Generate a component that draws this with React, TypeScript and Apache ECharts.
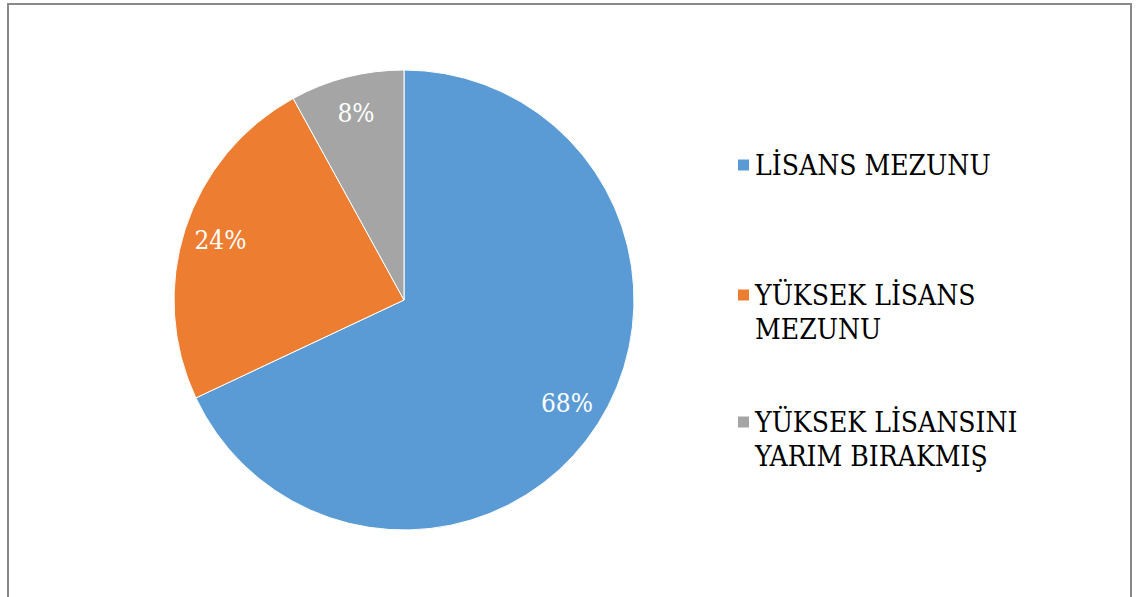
import React, { useEffect, useRef } from "react";
import * as echarts from "echarts";

const categories = ["LİSANS MEZUNU", "YÜKSEK LİSANS MEZUNU", "YÜKSEK LİSANSINI YARIM BIRAKMIŞ"];
const legendLines = [["LİSANS MEZUNU"], ["YÜKSEK LİSANS", "MEZUNU"], ["YÜKSEK LİSANSINI", "YARIM BIRAKMIŞ"]];
const values = [68, 24, 8];
const colors = ["#5B9BD5", "#ED7D31", "#A5A5A5"];

const FONT = "DejaVu Serif Condensed";

export default function App() {
  const ref = useRef<HTMLDivElement>(null);
  useEffect(() => {
    if (!ref.current) return;
    const chart = echarts.init(ref.current, null, { renderer: "svg" });
    const data = categories.map((name, i) => ({ name, value: values[i], itemStyle: { color: colors[i] } }));
    const lh = 34;
    const legendTops = [165 - lh / 2, 295 - lh * 1.5, 422 - lh * 1.5];
    const legends = categories.map((name, i) => ({
      data: [name],
      orient: "vertical",
      left: 736,
      top: legendTops[i],
      padding: 0,
      itemWidth: 13,
      itemHeight: 13,
      itemGap: 7,
      icon: "rect",
      selectedMode: false,
      formatter: () => (legendLines[i].length > 1 ? "\n" + legendLines[i].join("\n") : legendLines[i][0]),
      textStyle: { fontFamily: FONT, fontSize: 28, color: "#000", lineHeight: lh },
    }));
    chart.setOption({
      animation: false,
      backgroundColor: "#fff",
      legend: legends,
      graphic: [
        {
          type: "rect",
          shape: { x: 8, y: 4, width: 1123, height: 700 },
          style: { fill: "none", stroke: "#898989", lineWidth: 2 },
          silent: true,
        },
      ],
      series: [
        {
          type: "pie",
          center: [404, 300],
          radius: [0, 230],
          startAngle: 90,
          clockwise: true,
          label: { show: false },
          labelLine: { show: false },
          itemStyle: { borderColor: "#fff", borderWidth: 1 },
          emphasis: { disabled: true },
          data,
        },
        {
          type: "pie",
          center: [404, 300],
          radius: [150, 230],
          startAngle: 90,
          clockwise: true,
          silent: true,
          itemStyle: { color: "transparent" },
          label: {
            show: true,
            position: "inside",
            formatter: (p: any) => `${Math.round(p.percent)}%`,
            fontFamily: FONT,
            fontSize: 26,
            color: "#fff",
          },
          labelLine: { show: false },
          emphasis: { disabled: true },
          data: categories.map((name, i) => ({ name, value: values[i], itemStyle: { color: "transparent" } })),
        },
      ],
    });
    return () => chart.dispose();
  }, []);
  return (
    <div
      ref={ref}
      style={{ position: "absolute", left: 0, top: 0, width: 1140, height: 597, background: "#fff" }}
    />
  );
}
